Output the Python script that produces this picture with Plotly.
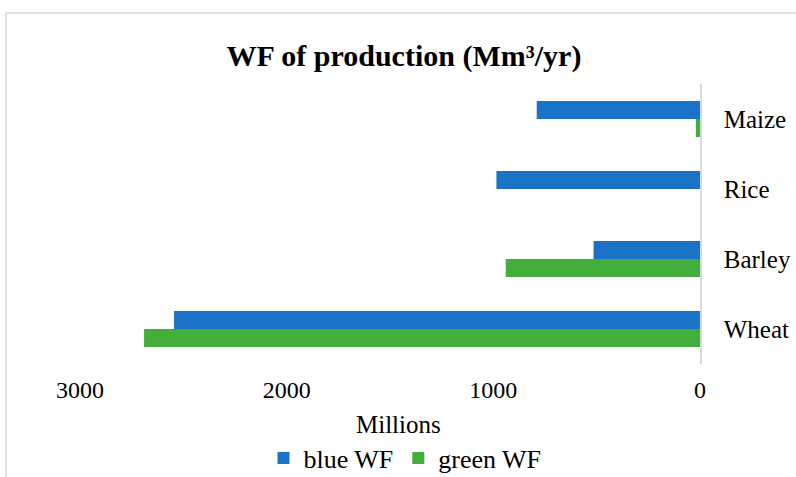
import plotly.graph_objects as go

# Water footprint of production by crop (Mm3/yr, axis in millions)
crops = ["Maize", "Rice", "Barley", "Wheat"]
blue_wf = [790, 985, 515, 2545]
green_wf = [20, 0, 940, 2690]
x_ticks = [0, 1000, 2000, 3000]

BLUE = "#1a73c7"
GREEN = "#44ae3c"
FONT = "Liberation Serif, Times New Roman, serif"

fig = go.Figure()
fig.add_trace(go.Bar(y=crops, x=blue_wf, orientation="h", name="blue WF",
                     marker=dict(color=BLUE, line=dict(width=0))))
fig.add_trace(go.Bar(y=crops, x=green_wf, orientation="h", name="green WF",
                     marker=dict(color=GREEN, line=dict(width=0))))

L, R, T, B = 80, 96, 84, 113
W, H = 796, 477
pw, ph = W - L - R, H - T - B

def px_x(p):
    return (p - L) / pw

def px_y(p):
    return (H - B - p) / ph

fig.update_layout(
    width=W, height=H,
    margin=dict(l=L, r=R, t=T, b=B, autoexpand=False),
    paper_bgcolor="white", plot_bgcolor="white",
    barmode="group", bargap=0.486, bargroupgap=0,
    font=dict(family=FONT, size=25, color="#000000"),
    title=dict(text="<b>WF of production (Mm³/yr)</b>",
               x=404 / W, xanchor="center", y=1 - 55 / H, yanchor="middle",
               font=dict(family=FONT, size=30, color="#000000")),
    xaxis=dict(range=[3000, 0], tickvals=x_ticks, ticktext=[str(v) for v in x_ticks],
               showgrid=False, zeroline=False, showline=False, automargin=False,
               ticks="outside", ticklen=4, tickcolor="rgba(0,0,0,0)",
               tickfont=dict(size=24)),
    yaxis=dict(categoryorder="array", categoryarray=crops, autorange="reversed",
               side="right", showgrid=False, zeroline=False, automargin=False,
               showline=True, linecolor="#d9d9d9", linewidth=1.5,
               ticks="", ticklabelstandoff=17, tickfont=dict(size=25)),
    legend=dict(orientation="h", x=405 / W, xanchor="center", xref="container",
                y=1 - 458 / H, yanchor="middle", yref="container",
                font=dict(size=26), itemwidth=30, bgcolor="rgba(0,0,0,0)"),
    showlegend=True,
    annotations=[dict(text="Millions", xref="paper", yref="paper",
                      x=px_x(398), y=px_y(424), xanchor="center", yanchor="middle",
                      showarrow=False, font=dict(size=25))],
    shapes=[dict(type="rect", xref="paper", yref="paper",
                 x0=px_x(6), x1=px_x(830), y0=px_y(520), y1=px_y(13),
                 line=dict(color="#d9d9d9", width=1.5), fillcolor="rgba(0,0,0,0)",
                 layer="below")],
)

fig.write_html("out.html")
